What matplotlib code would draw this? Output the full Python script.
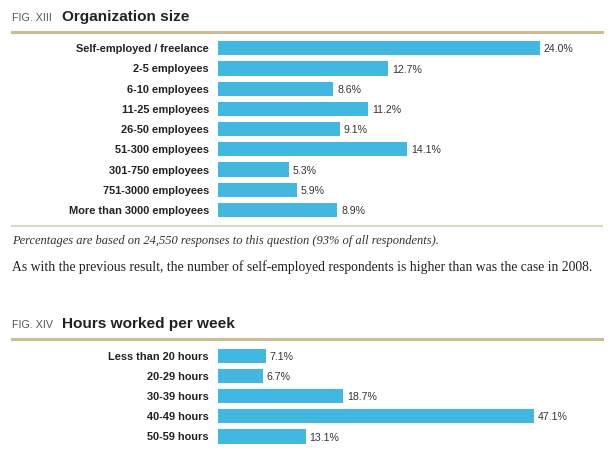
import matplotlib
matplotlib.use("Agg")
import matplotlib.pyplot as plt
from matplotlib.lines import Line2D

# ---- data ----
org_categories = ["Self-employed / freelance", "2-5 employees", "6-10 employees",
                  "11-25 employees", "26-50 employees", "51-300 employees",
                  "301-750 employees", "751-3000 employees", "More than 3000 employees"]
org_values = [24.0, 12.7, 8.6, 11.2, 9.1, 14.1, 5.3, 5.9, 8.9]

hours_categories = ["Less than 20 hours", "20-29 hours", "30-39 hours",
                    "40-49 hours", "50-59 hours", "60 hours or more"]
hours_values = [7.1, 6.7, 18.7, 47.1, 13.1, 7.4]

fig1_tag, fig1_title = "FIG. XIII", "Organization size"
fig2_tag, fig2_title = "FIG. XIV", "Hours worked per week"
note_text = "Percentages are based on 24,550 responses to this question (93% of all respondents)."
para_text = "As with the previous result, the number of self-employed respondents is higher than was the case in 2008."

W, H = 615, 450
BAR = "#42b7df"
GOLD = "#c9bd93"
SANS = ["Liberation Sans", "DejaVu Sans"]
SERIF = ["Liberation Serif", "DejaVu Serif"]

fig = plt.figure(figsize=(W / 100, H / 100), dpi=100)
fig.patch.set_facecolor("white")

def px_rect(left, top, width, height):
    return [left / W, 1 - (top + height) / H, width / W, height / H]

def bar_panel(cats, vals, first_center, xmax):
    step = 20.2
    n = len(cats)
    top = first_center - step / 2
    ax = fig.add_axes(px_rect(218, top, 335, n * step))
    y = list(range(n))
    ax.barh(y, vals, height=0.71, color=BAR, edgecolor="none")
    ax.set_xlim(0, xmax)
    ax.set_ylim(n - 0.5, -0.5)
    ax.set_yticks(y)
    ax.set_yticklabels(cats, fontsize=7.9, fontweight="bold", color="#222222", family=SANS)
    ax.tick_params(axis="y", length=0, pad=6.5)
    ax.set_xticks([])
    for s in ax.spines.values():
        s.set_visible(False)
    for yi, v in zip(y, vals):
        ax.annotate(f"{v:.1f}%", (v, yi), xytext=(2.8, -0.8), textcoords="offset points",
                    va="center", ha="left", fontsize=7.6, color="#333333", family=SANS)
    ax.patch.set_alpha(0)
    return ax

def header(tag, title, baseline, line_y):
    fig.text(12 / W, 1 - baseline / H, tag, fontsize=7.7, color="#555555",
             family=SANS, va="baseline", ha="left")
    fig.text(62 / W, 1 - baseline / H, title, fontsize=11.1, fontweight="bold",
             color="#222222", family=SANS, va="baseline", ha="left")
    fig.add_artist(Line2D([12 / W, 602 / W], [1 - line_y / H] * 2, color=GOLD, lw=2.2))

header(fig1_tag, fig1_title, 21, 32)
bar_panel(org_categories, org_values, 48.3, 25)

fig.add_artist(Line2D([12 / W, 602 / W], [1 - 226 / H] * 2, color="#ddd8c2", lw=1.5))
fig.text(12 / W, 1 - 244 / H, note_text, fontsize=9.0, style="italic", color="#333333",
         family=SERIF, va="baseline", ha="left")
fig.text(12 / W, 1 - 271 / H, para_text, fontsize=9.85, color="#222222",
         family=SERIF, va="baseline", ha="left")

header(fig2_tag, fig2_title, 328, 339)
bar_panel(hours_categories, hours_values, 355.7, 50)

fig.savefig("out.png", dpi=100, facecolor="white")
